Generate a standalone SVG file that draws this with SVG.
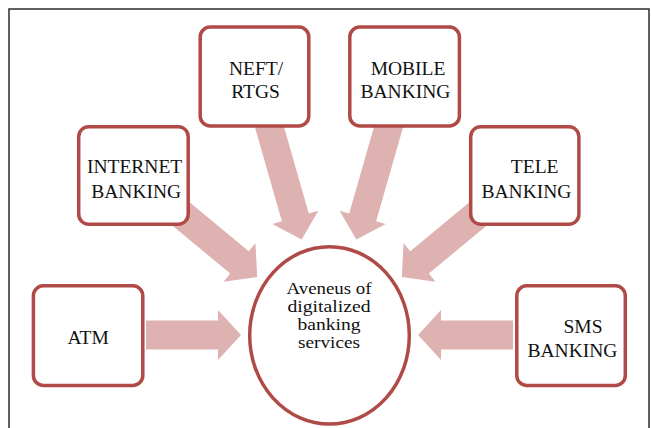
<svg xmlns="http://www.w3.org/2000/svg" width="651" height="428" viewBox="0 0 651 428">
  <style>
    .frame { fill: none; stroke: #2b2b2b; stroke-width: 1.5; }
    .box { fill: #ffffff; stroke: #b04a47; stroke-width: 3.5; }
    .hub { fill: #ffffff; stroke: #b04a47; stroke-width: 3.5; }
    .arrow { fill: #ddb2b1; stroke: none; }
    .label { font-family: "Liberation Serif", "Times New Roman", serif; font-size: 19.5px; fill: #111111; text-anchor: middle; }
    .hub-label { font-family: "Liberation Serif", "Times New Roman", serif; font-size: 17px; fill: #111111; text-anchor: middle; }
  </style>

  <!-- outer page frame -->
  <rect class="frame" x="9" y="9" width="640" height="440"/>

  <!-- block arrows pointing into the central ellipse -->
  <g id="connectors">
    <!-- ATM -> hub -->
    <polygon class="arrow" transform="translate(146,335)" points="0,-14.5 72,-14.5 72,-25 95,0 72,25 72,14.5 0,14.5"/>
    <!-- SMS BANKING -> hub -->
    <polygon class="arrow" transform="translate(513,335) rotate(180)" points="0,-14.5 72,-14.5 72,-25 95,0 72,25 72,14.5 0,14.5"/>
    <!-- INTERNET BANKING -> hub -->
    <polygon class="arrow" transform="translate(183.3,215.8) rotate(39.7)" points="-5,-14.5 73,-14.5 73,-25 96,0 73,25 73,14.5 -5,14.5"/>
    <!-- TELE BANKING -> hub -->
    <polygon class="arrow" transform="translate(475.7,215.8) rotate(140.3)" points="-5,-14.5 73,-14.5 73,-25 96,0 73,25 73,14.5 -5,14.5"/>
    <!-- NEFT/RTGS -> hub -->
    <polygon class="arrow" transform="translate(269.7,128) rotate(74)" points="-6,-14 93,-14 93,-24 116,0 93,24 93,14 -6,14"/>
    <!-- MOBILE BANKING -> hub -->
    <polygon class="arrow" transform="translate(388.3,128) rotate(106)" points="-6,-14 93,-14 93,-24 116,0 93,24 93,14 -6,14"/>
  </g>

  <g id="neft-rtgs">
    <rect class="box" x="200.2" y="27" width="108.6" height="99" rx="10"/>
    <text class="label" x="256" y="75">NEFT/</text>
    <text class="label" x="255.5" y="97.5">RTGS</text>
  </g>

  <g id="mobile-banking">
    <rect class="box" x="349.8" y="27" width="109.6" height="99" rx="10"/>
    <text class="label" x="408" y="75">MOBILE</text>
    <text class="label" x="405.5" y="98">BANKING</text>
  </g>

  <g id="internet-banking">
    <rect class="box" x="78.7" y="126.7" width="109.5" height="97.6" rx="10"/>
    <text class="label" x="134.6" y="173">INTERNET</text>
    <text class="label" x="136.2" y="197.5">BANKING</text>
  </g>

  <g id="tele-banking">
    <rect class="box" x="470.7" y="126.7" width="108.2" height="97.6" rx="10"/>
    <text class="label" x="534.7" y="173">TELE</text>
    <text class="label" x="526.5" y="197.5">BANKING</text>
  </g>

  <g id="atm">
    <rect class="box" x="33.4" y="285.8" width="109.4" height="99.6" rx="10"/>
    <text class="label" x="88.2" y="344">ATM</text>
  </g>

  <g id="sms-banking">
    <rect class="box" x="516.8" y="285.8" width="108.5" height="99.6" rx="10"/>
    <text class="label" x="583" y="333">SMS</text>
    <text class="label" x="572.5" y="357">BANKING</text>
  </g>

  <g id="hub">
    <ellipse class="hub" cx="329.5" cy="335.4" rx="79.8" ry="88.7"/>
    <text class="hub-label" x="329" y="294.3" textLength="85" lengthAdjust="spacingAndGlyphs">Aveneus of</text>
    <text class="hub-label" x="329" y="312.3" textLength="83" lengthAdjust="spacingAndGlyphs">digitalized</text>
    <text class="hub-label" x="329" y="330.3" textLength="63" lengthAdjust="spacingAndGlyphs">banking</text>
    <text class="hub-label" x="329" y="347.5" textLength="62" lengthAdjust="spacingAndGlyphs">services</text>
  </g>
</svg>
